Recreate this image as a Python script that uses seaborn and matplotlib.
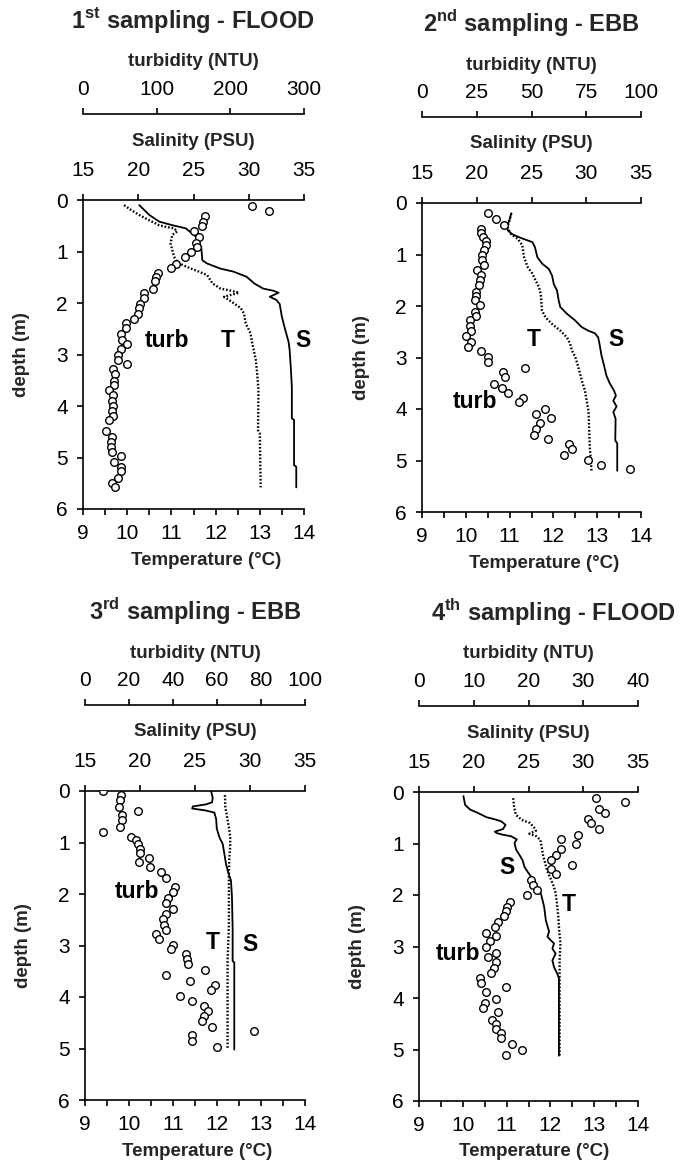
import matplotlib
matplotlib.use("Agg")
import matplotlib.pyplot as plt
import seaborn as sns
from matplotlib.ticker import MultipleLocator

sns.set_style("ticks")
plt.rcParams['font.family'] = ['Liberation Sans', 'DejaVu Sans']
plt.rcParams['mathtext.fontset'] = 'custom'
plt.rcParams['mathtext.rm'] = 'Liberation Sans'
plt.rcParams['mathtext.bf'] = 'Liberation Sans:bold'

# ---------------- data ----------------
titles = [r'1$^{\mathbf{st}}$ sampling - FLOOD', r'2$^{\mathbf{nd}}$ sampling - EBB',
          r'3$^{\mathbf{rd}}$ sampling - EBB', r'4$^{\mathbf{th}}$ sampling - FLOOD']
temp_ticks = [9, 10, 11, 12, 13, 14]
sal_ticks = [15, 20, 25, 30, 35]
depth_ticks = [0, 1, 2, 3, 4, 5, 6]
turb_max = [300, 100, 100, 40]
turb_step = [100, 25, 20, 10]

# panel 1
p1_T_depth = [0.10, 0.19, 0.29, 0.39, 0.49, 0.52, 0.55, 0.61, 0.68, 0.84, 0.97, 1.10, 1.20, 1.26, 1.33, 1.39, 1.46,
              1.62, 1.72, 1.76, 1.80, 1.88, 1.94, 2.01, 2.10, 2.20, 2.39, 2.59, 2.78, 3.11, 3.37, 3.69, 4.47, 4.53, 5.58]
p1_T = [9.93, 10.08, 10.27, 10.49, 10.72, 10.87, 11.06, 11.13, 11.02, 10.98, 11.02, 11.06, 11.13, 11.25, 11.44, 11.62,
        11.81, 11.93, 12.11, 12.34, 12.53, 12.19, 12.30, 12.42, 12.57, 12.64, 12.68, 12.79, 12.83, 12.91, 12.94, 12.97,
        12.96, 13.00, 13.02]
p1_S_depth = [0.10, 0.29, 0.42, 0.49, 0.55, 0.71, 0.91, 1.17, 1.23, 1.33, 1.39, 1.49, 1.62, 1.72, 1.76, 1.80, 1.88,
              1.94, 2.02, 2.27, 2.52, 2.75, 2.91, 3.24, 3.62, 4.24, 4.27, 5.15, 5.18, 5.58]
p1_S = [20.09, 21.0, 21.9, 23.1, 24.3, 25.2, 25.7, 25.8, 26.2, 27.4, 28.6, 29.8, 30.5, 31.3, 32.2, 32.7, 31.9, 32.5,
        32.8, 33.0, 33.3, 33.6, 33.7, 33.8, 33.9, 33.9, 34.1, 34.1, 34.3, 34.3]
p1_turb_depth = [0.11, 0.21, 0.32, 0.42, 0.50, 0.60, 0.72, 0.84, 0.92, 1.00, 1.10, 1.24, 1.33, 1.41, 1.49, 1.57, 1.72,
                 1.81, 1.90, 2.01, 2.10, 2.21, 2.32, 2.39, 2.49, 2.60, 2.72, 2.80, 2.90, 3.01, 3.11, 3.18, 3.29, 3.38,
                 3.51, 3.59, 3.69, 3.79, 3.90, 4.00, 4.10, 4.19, 4.28, 4.49, 4.60, 4.69, 4.79, 4.89, 4.98, 5.08, 5.18,
                 5.26, 5.39, 5.49, 5.58]
p1_turb = [229, 252, 166, 163, 162, 151, 157, 154, 155, 146, 138, 126, 119, 102, 99, 98, 95, 83, 83, 78, 76, 75, 69,
           58, 58, 51, 53, 60, 51, 48, 47, 60, 41, 44, 42, 42, 35, 41, 40, 41, 39, 41, 35, 31, 40, 38, 38, 40, 51, 42,
           51, 51, 47, 40, 43]

# panel 2
p2_T_depth = [0.20, 0.30, 0.47, 0.60, 0.69, 0.82, 1.05, 1.24, 1.37, 1.50, 1.63, 1.76, 1.96, 2.09, 2.22, 2.35, 2.48,
              2.61, 2.73, 2.86, 2.99, 3.19, 3.32, 3.48, 3.64, 3.84, 4.03, 4.23, 4.74, 4.94, 5.20]
p2_T = [11.04, 11.01, 10.95, 11.03, 11.18, 11.29, 11.33, 11.41, 11.52, 11.59, 11.67, 11.71, 11.73, 11.74, 11.82, 11.97,
        12.16, 12.31, 12.38, 12.42, 12.50, 12.57, 12.61, 12.66, 12.72, 12.76, 12.80, 12.81, 12.83, 12.85, 12.87]
p2_S_depth = [0.20, 0.30, 0.43, 0.53, 0.61, 0.69, 0.76, 0.86, 1.05, 1.18, 1.28, 1.41, 1.57, 1.70, 1.89, 2.02, 2.15,
              2.28, 2.41, 2.48, 2.53, 2.61, 2.77, 2.96, 3.16, 3.35, 3.50, 3.64, 3.74, 3.84, 3.95, 4.06, 4.19, 4.61,
              4.67, 5.20]
p2_S = [23.15, 23.03, 22.82, 22.82, 23.27, 24.17, 25.08, 25.32, 25.53, 25.98, 26.58, 26.88, 27.03, 27.33, 27.48, 27.63,
        28.23, 28.98, 29.59, 30.19, 30.79, 31.09, 31.24, 31.39, 31.63, 31.84, 32.14, 32.53, 32.71, 32.47, 32.77, 32.47,
        32.68, 32.65, 32.83, 32.83]
p2_turb_depth = [0.19, 0.32, 0.42, 0.50, 0.58, 0.66, 0.73, 0.82, 0.92, 1.00, 1.10, 1.21, 1.30, 1.39, 1.49, 1.60, 1.72,
                 1.80, 1.89, 1.99, 2.12, 2.20, 2.28, 2.38, 2.48, 2.59, 2.70, 2.79, 2.88, 2.99, 3.09, 3.20, 3.29, 3.38,
                 3.51, 3.59, 3.69, 3.78, 3.87, 4.00, 4.10, 4.18, 4.28, 4.39, 4.50, 4.58, 4.67, 4.77, 4.89, 4.99, 5.08,
                 5.17]
p2_turb = [30.1, 33.8, 37.6, 26.8, 27.1, 27.8, 29.0, 29.0, 28.1, 27.5, 27.5, 28.1, 25.3, 27.1, 26.3, 25.9, 24.8, 24.8,
           24.1, 26.6, 24.1, 24.8, 21.8, 21.8, 22.6, 20.3, 22.6, 21.1, 26.8, 30.1, 30.1, 46.9, 36.8, 38.1, 33.1, 36.5,
           39.1, 46.2, 44.1, 56.1, 51.9, 59.1, 54.1, 51.9, 51.1, 57.6, 67.2, 68.4, 65.0, 75.7, 81.7, 95.1]

# panel 3
p3_T_depth = [0.08, 0.31, 0.51, 0.70, 0.90, 1.09, 1.29, 1.61, 2.00, 2.65, 3.30, 5.02]
p3_T = [12.18, 12.19, 12.23, 12.27, 12.30, 12.30, 12.28, 12.27, 12.27, 12.27, 12.24, 12.24]
p3_S_depth = [0.00, 0.13, 0.22, 0.26, 0.30, 0.34, 0.38, 0.42, 0.54, 0.73, 0.90, 1.03, 1.22, 1.42, 1.61, 1.74, 2.06,
              2.65, 3.30, 3.33, 5.02]
p3_S = [26.46, 26.61, 26.55, 26.0, 24.80, 24.74, 26.01, 26.76, 26.92, 26.98, 27.22, 27.52, 27.67, 27.82, 28.06, 28.27,
        28.36, 28.42, 28.42, 28.57, 28.57]
p3_turb_depth = [0.00, 0.08, 0.18, 0.31, 0.39, 0.47, 0.57, 0.70, 0.80, 0.90, 0.96, 1.03, 1.12, 1.21, 1.30, 1.38, 1.48,
                 1.58, 1.68, 1.87, 1.97, 2.08, 2.18, 2.29, 2.39, 2.49, 2.60, 2.70, 2.78, 2.88, 2.99, 3.07, 3.17, 3.27,
                 3.36, 3.48, 3.58, 3.68, 3.77, 3.87, 3.98, 4.08, 4.18, 4.27, 4.37, 4.47, 4.58, 4.66, 4.74, 4.86, 4.97]
p3_turb = [8.0, 16.3, 15.8, 15.5, 24.1, 17.0, 17.0, 16.1, 8.3, 21.1, 23.1, 24.1, 24.9, 24.9, 29.1, 24.6, 29.7, 34.7,
           36.6, 40.7, 40.0, 37.7, 36.9, 40.0, 36.9, 35.4, 35.7, 36.6, 32.4, 33.6, 40.0, 39.2, 46.0, 46.3, 46.7, 54.7,
           36.9, 47.8, 59.3, 57.3, 43.3, 48.7, 54.3, 55.8, 54.3, 53.2, 57.8, 76.6, 48.7, 48.7, 60.0]

# panel 4
p4_T_depth = [0.12, 0.28, 0.44, 0.54, 0.60, 0.68, 0.75, 0.81, 0.86, 0.93, 1.06, 1.22, 1.35, 1.48, 1.58, 1.71, 1.84,
              1.97, 2.16, 2.42, 2.68, 2.94, 3.27, 5.12]
p4_T = [11.15, 11.17, 11.21, 11.34, 11.53, 11.62, 11.67, 11.52, 11.68, 11.77, 11.80, 11.83, 11.87, 11.91, 11.95, 12.02,
        12.08, 12.12, 12.15, 12.18, 12.20, 12.23, 12.21, 12.21]
p4_S_depth = [0.08, 0.25, 0.34, 0.41, 0.49, 0.53, 0.57, 0.64, 0.72, 0.77, 0.80, 0.83, 0.86, 0.92, 0.99, 1.12, 1.22,
              1.33, 1.45, 1.55, 1.64, 1.72, 1.84, 1.97, 2.10, 2.23, 2.49, 2.71, 2.81, 2.88, 2.94, 3.04, 3.14, 3.27,
              3.40, 3.53, 3.62, 5.12]
p4_S = [19.06, 19.21, 19.66, 20.41, 21.17, 21.92, 22.52, 22.91, 22.67, 21.92, 22.13, 22.67, 23.42, 23.93, 23.72, 23.87,
        24.17, 24.47, 24.62, 24.92, 25.23, 25.53, 25.83, 26.13, 26.28, 26.43, 26.58, 26.88, 26.73, 27.03, 27.33, 27.18,
        27.48, 27.18, 27.33, 27.63, 27.78, 27.78]
p4_turb_depth = [0.12, 0.20, 0.33, 0.41, 0.53, 0.60, 0.72, 0.83, 0.92, 1.01, 1.11, 1.22, 1.32, 1.42, 1.50, 1.60, 1.71,
                 1.81, 1.90, 2.00, 2.13, 2.23, 2.32, 2.41, 2.52, 2.63, 2.73, 2.80, 2.89, 3.01, 3.12, 3.20, 3.30, 3.41,
                 3.51, 3.61, 3.71, 3.79, 3.88, 4.01, 4.10, 4.19, 4.27, 4.42, 4.50, 4.60, 4.68, 4.77, 4.90, 5.00, 5.10]
p4_turb = [32.3, 37.7, 32.8, 34.0, 30.9, 31.5, 32.9, 29.1, 25.9, 28.6, 26.0, 25.1, 24.1, 28.0, 24.1, 25.1, 20.5, 20.9,
           21.5, 19.8, 16.7, 16.1, 15.9, 15.5, 14.4, 13.8, 12.3, 14.1, 12.9, 12.3, 14.1, 12.6, 14.1, 13.7, 13.2, 11.1,
           11.4, 15.8, 12.3, 14.1, 12.0, 11.7, 14.4, 13.4, 14.1, 14.0, 14.9, 15.0, 17.0, 18.9, 15.8]

# series-label positions (temperature, depth) for turb / T / S
label_pos = [
    [(10.9, 2.72), (12.27, 2.72), (13.97, 2.72)],
    [(10.2, 3.86), (11.55, 2.66), (13.43, 2.66)],
    [(10.18, 1.96), (11.9, 2.95), (12.75, 2.99)],
    [(9.89, 3.13), (12.43, 2.19), (11.0, 1.46)],
]

series = [
    (p1_T_depth, p1_T, p1_S_depth, p1_S, p1_turb_depth, p1_turb),
    (p2_T_depth, p2_T, p2_S_depth, p2_S, p2_turb_depth, p2_turb),
    (p3_T_depth, p3_T, p3_S_depth, p3_S, p3_turb_depth, p3_turb),
    (p4_T_depth, p4_T, p4_S_depth, p4_S, p4_turb_depth, p4_turb),
]

# ---------------- layout (pixels) ----------------
W, H = 681, 1164
boxes = [(83, 304, 200, 509), (422, 641, 203, 512), (85, 305, 791, 1100), (419, 638, 792, 1101)]
title_x = [193, 531, 195, 553]
templabel_x = [206, 544, 197, 534]

fig = plt.figure(figsize=(W / 100, H / 100), dpi=100)
TICK = 15
LAB = 13.5
LW = 1.2

for i in range(4):
    l, r, t, b = boxes[i]
    Td, T, Sd, S, td, tb = series[i]
    ax = fig.add_axes([l / W, 1 - b / H, (r - l) / W, (b - t) / H])
    ax_s = ax.twiny()
    ax_t = ax.twiny()

    sns.lineplot(x=T, y=Td, ax=ax, sort=False, estimator=None, color='black', lw=1.7,
                 linestyle=(0, (0.7, 0.8)))
    sns.lineplot(x=S, y=Sd, ax=ax_s, sort=False, estimator=None, color='black', lw=1.3)
    sns.scatterplot(x=tb, y=td, ax=ax_t, marker='o', s=30, facecolor='white', edgecolor='black',
                    linewidth=1.0, zorder=5)

    ax.set_xlim(9, 14)
    ax_s.set_xlim(15, 35)
    ax_t.set_xlim(0, turb_max[i])
    ax.set_ylim(6, 0)
    for a in (ax, ax_s, ax_t):
        a.set_xlabel('')
        a.set_ylabel('')

    # spines
    ax.spines['right'].set_visible(False)
    ax.spines['top'].set_visible(False)
    for a in (ax_s, ax_t):
        for sp in ('bottom', 'left', 'right'):
            a.spines[sp].set_visible(False)
        a.spines['top'].set_linewidth(LW)
        a.spines['top'].set_color('black')
    for sp in ('left', 'bottom'):
        ax.spines[sp].set_linewidth(LW)
        ax.spines[sp].set_color('black')
    ax_t.spines['top'].set_position(('outward', 86 * 0.72))

    # ticks
    ax.set_xticks(temp_ticks)
    ax.xaxis.set_minor_locator(MultipleLocator(0.5))
    ax.set_yticks(depth_ticks)
    ax.tick_params(axis='x', which='both', direction='out', length=4.5, width=LW, labelsize=TICK, pad=6.5,
                   color='black', labelcolor='black')
    ax.tick_params(axis='y', which='both', direction='out', length=4.5, width=LW, labelsize=TICK, pad=6.5,
                   color='black', labelcolor='black', right=False)
    ax_s.set_xticks(sal_ticks)
    ax_s.tick_params(axis='x', direction='out', length=4.5, width=LW, labelsize=TICK, pad=10,
                     color='black', labelcolor='black')
    ax_s.tick_params(axis='y', left=False, right=False, labelleft=False, labelright=False)
    ax_t.set_xticks(list(range(0, turb_max[i] + 1, turb_step[i])))
    ax_t.tick_params(axis='x', direction='out', length=4.5, width=LW, labelsize=TICK, pad=6,
                     color='black', labelcolor='black')
    ax_t.tick_params(axis='y', left=False, right=False, labelleft=False, labelright=False)

    # series labels
    for txt, (x, y) in zip(['turb', 'T', 'S'], label_pos[i]):
        ax.text(x, y, txt, ha='center', va='center', fontsize=16.5, fontweight='bold', color='black')

    # axis titles
    cx = (l + r) / 2
    fig.text(title_x[i] / W, 1 - (t - 180) / H, titles[i], ha='center', va='center',
             fontsize=17, fontweight='bold')
    fig.text(cx / W, 1 - (t - 138) / H, 'turbidity (NTU)', ha='center', va='center',
             fontsize=LAB, fontweight='bold')
    fig.text(cx / W, 1 - (t - 59) / H, 'Salinity (PSU)', ha='center', va='center',
             fontsize=LAB, fontweight='bold')
    fig.text(templabel_x[i] / W, 1 - (b + 51) / H, 'Temperature (°C)', ha='center', va='center',
             fontsize=LAB, fontweight='bold')
    fig.text((l - 61) / W, 1 - ((t + b) / 2) / H, 'depth (m)', ha='center', va='center',
             rotation=90, fontsize=LAB, fontweight='bold')

fig.savefig('out.png', dpi=100)
